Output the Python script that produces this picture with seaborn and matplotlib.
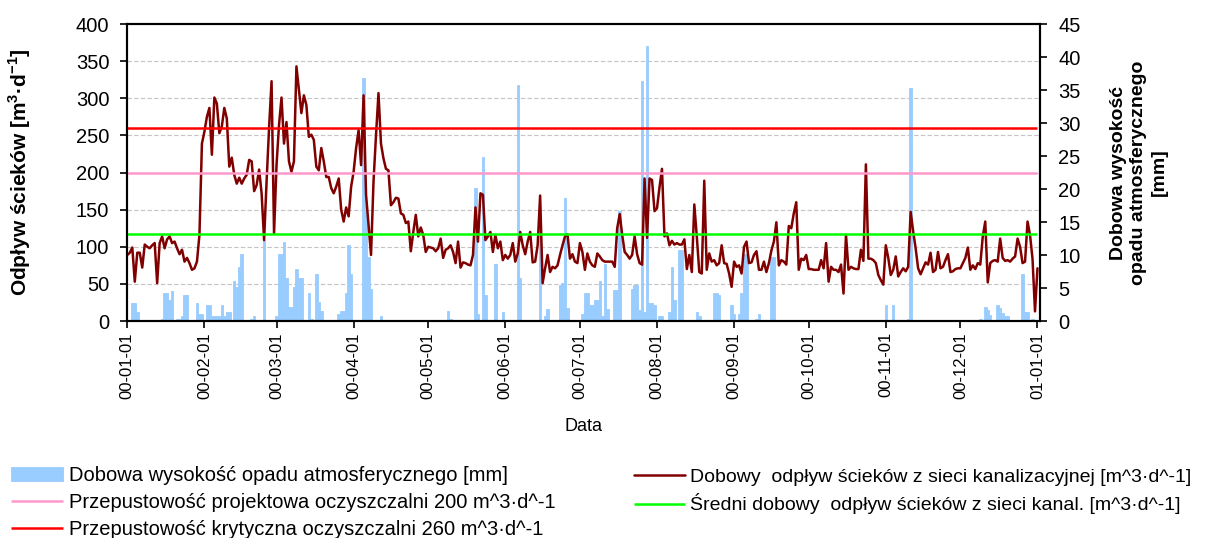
import numpy as np
import pandas as pd
import seaborn as sns
import matplotlib
matplotlib.use('Agg')
import matplotlib.pyplot as plt
import matplotlib.dates as mdates

# daily sewage outflow 2000-01-01 .. 2001-01-01 [m3/d]
start_date = '2000-01-01'
outflow = [
    89, 92, 99, 53, 92, 92, 72, 103, 100, 98,
    102, 105, 51, 105, 114, 98, 110, 114, 105, 107,
    98, 90, 96, 80, 85, 78, 69, 71, 80, 116,
    239, 255, 275, 287, 224, 301, 293, 253, 262, 287,
    273, 208, 220, 197, 185, 193, 185, 192, 197, 217,
    215, 175, 183, 204, 172, 109, 188, 260, 323, 118,
    210, 264, 301, 239, 268, 215, 201, 215, 343, 311,
    280, 304, 291, 248, 251, 244, 208, 203, 233, 215,
    194, 194, 179, 172, 181, 192, 150, 134, 153, 141,
    181, 201, 233, 257, 210, 304, 170, 130, 89, 188,
    250, 307, 239, 219, 205, 203, 156, 160, 166, 165,
    145, 143, 132, 134, 94, 120, 143, 114, 126, 116,
    93, 100, 99, 98, 94, 98, 111, 85, 96, 98,
    102, 93, 78, 107, 72, 79, 78, 76, 75, 89,
    153, 107, 172, 170, 109, 114, 120, 93, 116, 98,
    107, 82, 89, 84, 89, 105, 80, 91, 120, 102,
    90, 107, 120, 79, 80, 102, 169, 51, 71, 89,
    66, 73, 71, 75, 89, 102, 114, 117, 84, 90,
    80, 78, 105, 93, 69, 91, 80, 75, 73, 91,
    87, 82, 80, 80, 80, 80, 73, 125, 144, 116,
    93, 89, 84, 89, 114, 90, 78, 76, 192, 112,
    192, 190, 148, 152, 180, 205, 114, 118, 102, 108,
    103, 105, 103, 103, 110, 70, 89, 66, 157, 114,
    66, 64, 189, 69, 91, 80, 82, 75, 78, 102,
    78, 77, 64, 46, 80, 73, 75, 64, 100, 107,
    78, 79, 89, 94, 69, 69, 80, 66, 78, 95,
    107, 133, 75, 82, 80, 76, 128, 125, 145, 160,
    69, 84, 82, 89, 70, 70, 69, 69, 69, 82,
    71, 105, 53, 73, 69, 69, 66, 76, 37, 116,
    69, 73, 71, 70, 70, 96, 81, 211, 84, 84,
    82, 78, 62, 55, 49, 102, 85, 62, 69, 87,
    60, 66, 71, 67, 73, 147, 121, 98, 71, 63,
    71, 79, 76, 92, 66, 69, 93, 71, 73, 82,
    90, 66, 67, 70, 71, 71, 78, 85, 99, 69,
    75, 70, 78, 76, 114, 134, 52, 78, 81, 82,
    80, 111, 85, 81, 82, 80, 84, 87, 111, 100,
    78, 80, 134, 116, 84, 13, 71,
]

# daily precipitation [mm], day index counted from start_date
rain_day = [2, 3, 4, 14, 15, 16, 17, 18, 20, 21, 22, 23, 24, 28, 29, 30,
            32, 33, 34, 35, 36, 37, 38, 39, 40, 41, 43, 44, 45, 46, 50, 51,
            55, 60, 61, 62, 63, 64, 65, 66, 67, 68, 69, 70, 73, 74, 76, 77,
            78, 85, 86, 87, 88, 89, 90, 95, 96, 97, 98, 102, 129, 130, 140,
            141, 143, 144, 148, 151, 157, 158, 166, 168, 169, 174, 175, 176,
            177, 183, 184, 185, 186, 187, 188, 189, 190, 191, 192, 193, 196,
            197, 198, 203, 204, 205, 206, 207, 208, 209, 210, 211, 212, 214,
            215, 218, 219, 220, 222, 223, 229, 230, 236, 237, 238, 243, 244,
            246, 247, 248, 249, 253, 254, 259, 260, 305, 308, 314, 315, 343,
            345, 346, 347, 350, 351, 352, 353, 354, 360, 361, 362, 364]
rain_mm = [2.8, 2.8, 1.4, 0.3, 4.3, 4.3, 3.2, 4.6, 0.3, 0.3, 0.7, 3.9, 3.9, 2.8, 1.1, 1.1,
           2.5, 2.5, 0.7, 0.7, 0.7, 0.7, 2.5, 0.7, 1.4, 1.4, 6.1, 5.1, 8.2, 10.1, 0.3, 0.8,
           12.3, 0.7, 10.1, 10.1, 11.9, 6.5, 2.2, 2.2, 5.1, 7.9, 6.5, 6.5, 4.3, 0.3, 7.2, 2.9,
           1.5, 1.0, 1.5, 1.5, 4.3, 11.5, 7.2, 36.8, 17.3, 9.7, 4.9, 0.7, 1.5, 0.3, 20.2,
           1.0, 24.9, 3.9, 8.7, 1.4, 35.8, 6.5, 16.2, 0.7, 1.8, 5.5, 5.7, 18.7,
           1.9, 1.0, 4.3, 4.3, 2.5, 2.5, 3.2, 3.2, 6.1, 0.7, 8.6, 1.8, 4.7,
           4.7, 16.6, 4.9, 5.4, 5.4, 1.7, 36.4, 1.4, 41.7, 2.8, 2.8, 2.5, 0.7,
           0.7, 1.4, 8.2, 3.2, 10.8, 10.8, 1.4, 0.7, 4.3, 4.3, 3.9, 2.5, 1.0,
           1.0, 4.3, 10.1, 10.1, 0.3, 1.0, 9.7, 9.7, 2.5, 2.5, 0.3, 35.3, 0.3,
           2.2, 1.6, 0.9, 2.5, 2.0, 1.2, 0.7, 0.7, 7.2, 1.4, 1.4, 0.3]

design_capacity = 200
critical_capacity = 260
mean_outflow = 117

labels_left = ['Dobowa wysokość opadu atmosferycznego [mm]',
               'Przepustowość projektowa oczyszczalni 200 m^3·d^-1',
               'Przepustowość krytyczna oczyszczalni 260 m^3·d^-1']
labels_right = ['Dobowy  odpływ ścieków z sieci kanalizacyjnej [m^3·d^-1]',
                'Średni dobowy  odpływ ścieków z sieci kanal. [m^3·d^-1]']

dates = pd.date_range(start_date, periods=len(outflow), freq='D')
df = pd.DataFrame({'Data': dates, 'odplyw': outflow})
rain_dates = dates[rain_day]

sns.set_style('white')
plt.rcParams['font.family'] = ['Liberation Sans', 'DejaVu Sans']
plt.rcParams['text.color'] = 'black'
plt.rcParams['axes.labelcolor'] = 'black'
plt.rcParams['mathtext.fontset'] = 'custom'
plt.rcParams['mathtext.rm'] = 'Liberation Sans'
plt.rcParams['mathtext.bf'] = 'Liberation Sans:bold'

fig = plt.figure(figsize=(12.08, 5.38), dpi=100)
ax = fig.add_axes([0.1054, 0.4033, 0.7555, 0.552])
ax2 = ax.twinx()
ax.set_zorder(ax2.get_zorder() + 1)
ax.patch.set_visible(False)

# precipitation bars on the right axis (drawn below the lines)
bars = ax2.bar(rain_dates, rain_mm, width=1.0, color='#99ccff',
               edgecolor='#99ccff', linewidth=0.6)

# outflow + reference lines on the left axis
sns.lineplot(data=df, x='Data', y='odplyw', ax=ax, color='#800000', linewidth=1.8)
line = ax.lines[0]
pink = ax.hlines(design_capacity, dates[0], dates[-1], color='#ff99cc', linewidth=1.8)
red = ax.hlines(critical_capacity, dates[0], dates[-1], color='#ff0000', linewidth=1.8)
green = ax.hlines(mean_outflow, dates[0], dates[-1], color='#00ff00', linewidth=1.8)

ax.set_xlim(dates[0], dates[-1] + pd.Timedelta(days=1))
ax.set_ylim(0, 400)
ax.set_yticks(np.arange(0, 401, 50))
ax2.set_ylim(0, 45)
ax2.set_yticks(np.arange(0, 46, 5))
ax.xaxis.set_major_locator(mdates.MonthLocator())
ax.xaxis.set_major_formatter(mdates.DateFormatter('%y-%m-%d'))

# grid behind the bars: months vertically, left-axis steps horizontally
ax2.set_yticks(np.arange(0, 401, 50) * 45 / 400, minor=True)
ax2.grid(True, axis='x', which='major', color='#c4c4c4', linestyle=(0, (4, 2)), linewidth=0.8)
ax2.grid(True, axis='y', which='minor', color='#c4c4c4', linestyle=(0, (4, 2)), linewidth=0.8)
ax2.tick_params(axis='y', which='minor', length=0)

for a in (ax, ax2):
    for s in a.spines.values():
        s.set_color('black')
        s.set_linewidth(1.5)

ax.tick_params(axis='x', bottom=True, direction='out', length=5, width=1.2,
               labelsize=12, pad=3, labelrotation=90, colors='black')
ax.tick_params(axis='y', left=True, direction='out', length=5, width=1.2,
               labelsize=14.5, pad=8, colors='black')
ax2.tick_params(axis='y', which='major', right=True, direction='out', length=5, width=1.2,
                labelsize=14.5, pad=8, colors='black')

ax.set_xlabel('Data', fontsize=13, labelpad=14)
ax.set_ylabel(r'Odpływ ścieków [m$^{\mathbf{3}}$·d$^{\mathbf{-1}}$]', fontsize=15, fontweight='bold')
ax.yaxis.set_label_coords(-0.103, 0.5)
ax2.set_ylabel('Dobowa wysokość\nopadu atmosferycznego\n[mm]', fontsize=14,
               fontweight='bold', linespacing=1.25)
ax2.yaxis.set_label_coords(1.077, 0.5)

leg_kw = dict(loc='upper left', frameon=False, handlelength=2.6,
              handletextpad=0.3, labelspacing=0.4, borderpad=0, borderaxespad=0)
fig.legend(handles=[bars, pink, red], labels=labels_left, fontsize=14.5,
           bbox_to_anchor=(11 / 1208, 1 - 466 / 538), **leg_kw)
fig.legend(handles=[line, green], labels=labels_right, fontsize=14,
           bbox_to_anchor=(634 / 1208, 1 - 468 / 538), **leg_kw)

fig.savefig('out.png', dpi=100)
